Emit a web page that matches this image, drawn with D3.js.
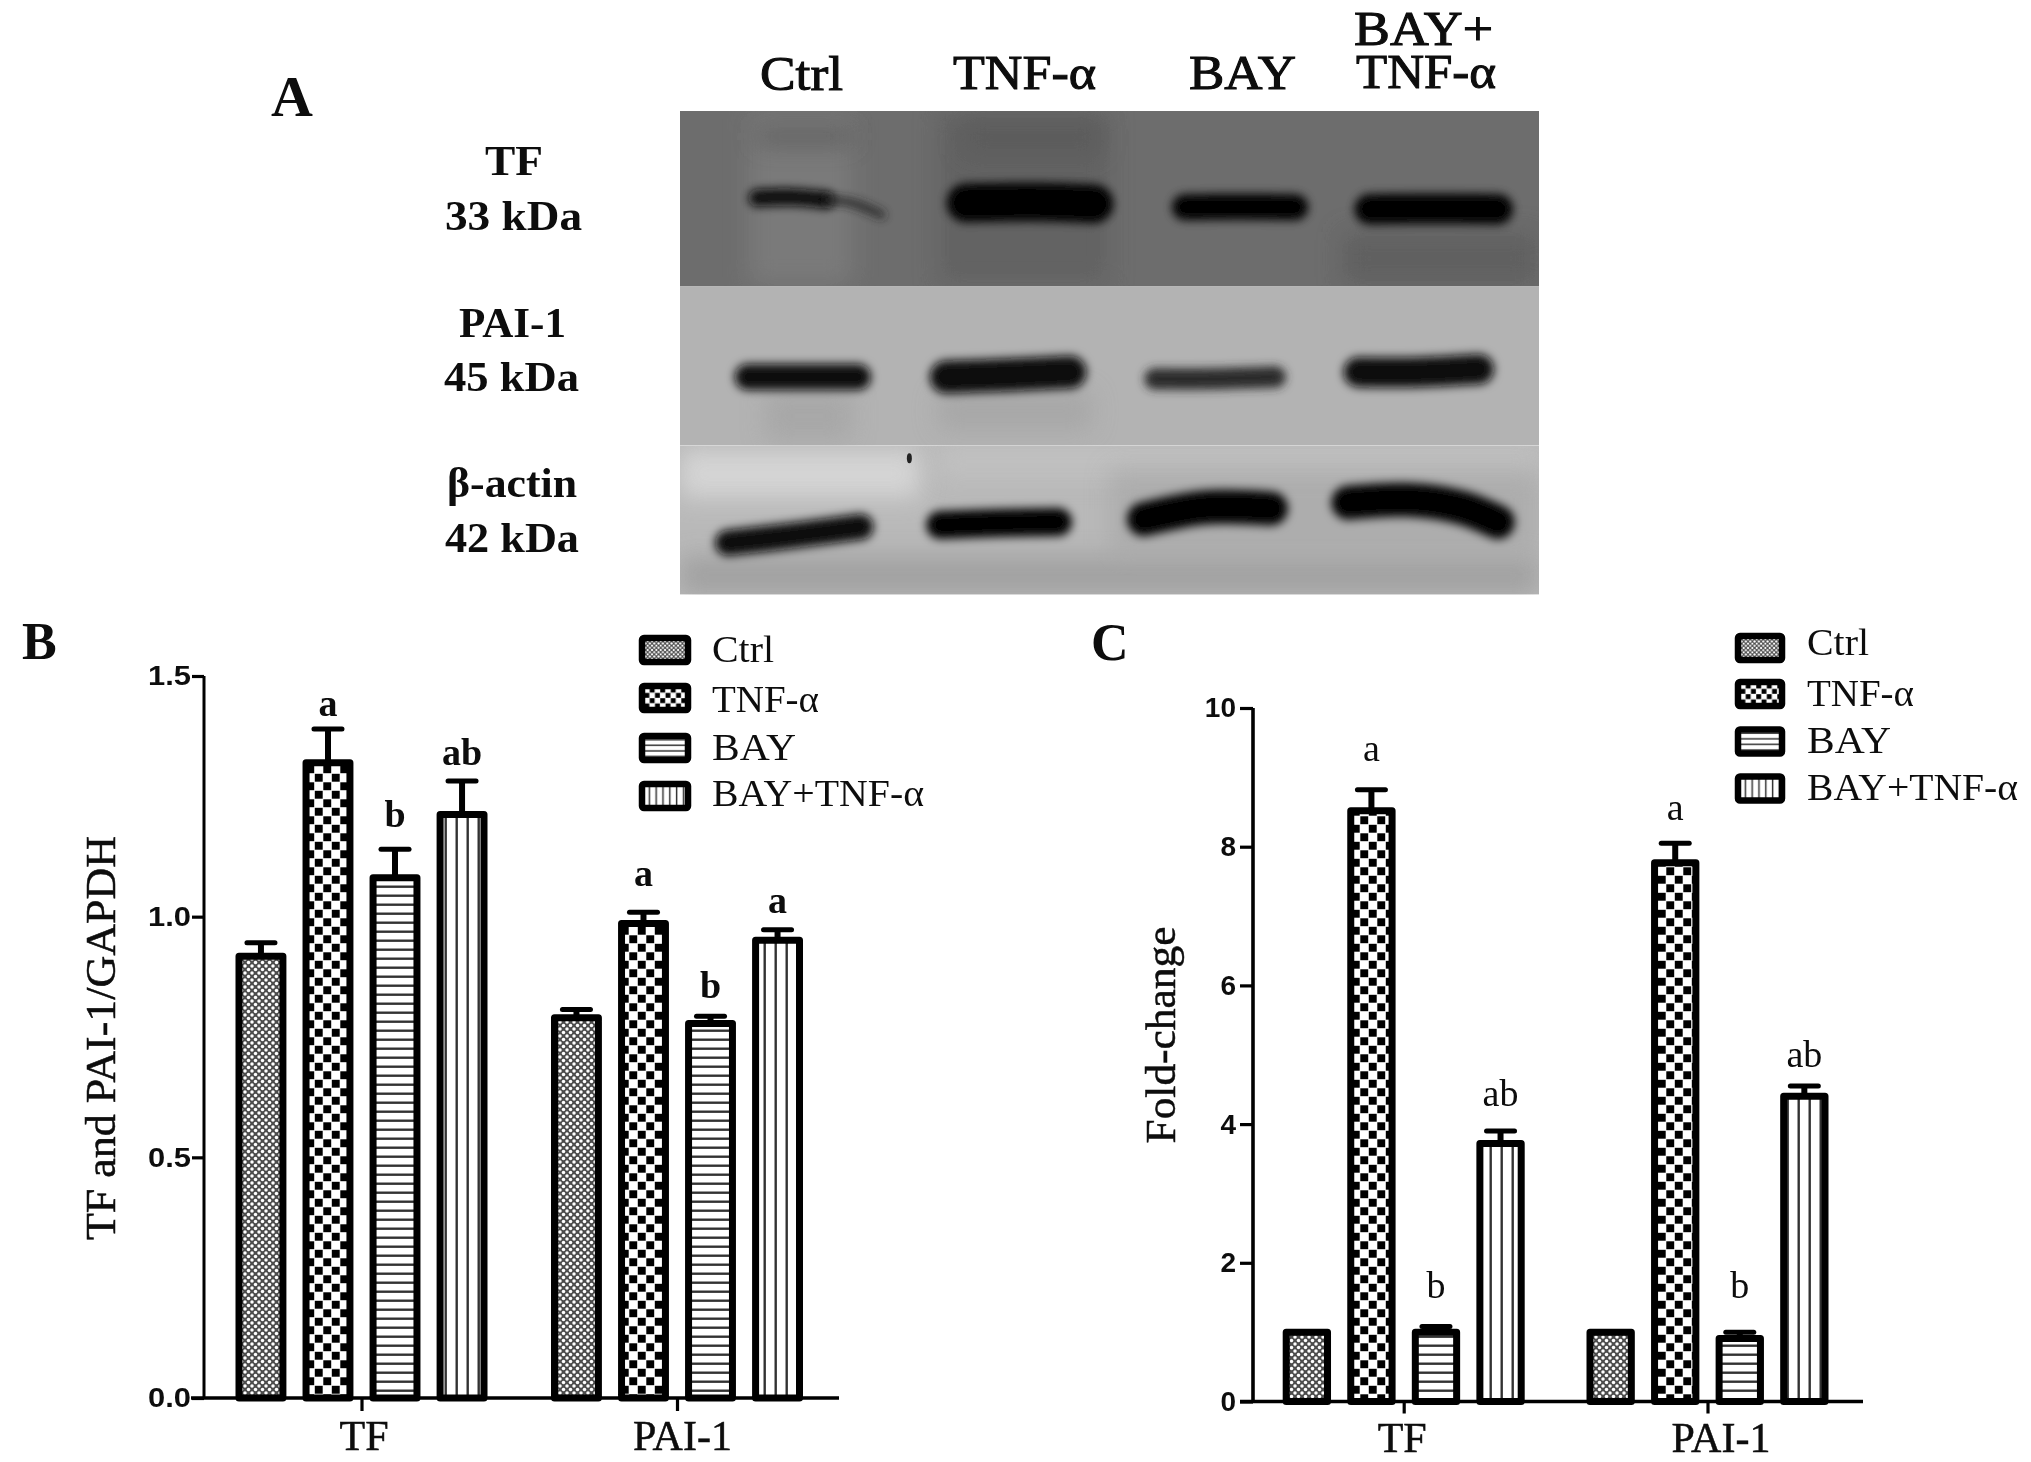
<!DOCTYPE html>
<html><head><meta charset="utf-8">
<script src="https://cdnjs.cloudflare.com/ajax/libs/d3/7.8.5/d3.min.js"></script>
<style>html,body{margin:0;background:#fff}svg{display:block}</style></head>
<body><svg id="c" width="2031" height="1462"></svg>
<script>
// ---------- data ----------
const series = ["Ctrl","TNF-α","BAY","BAY+TNF-α"];
const groups = ["TF","PAI-1"];
const bTF   = [0.918,1.32,1.081,1.212];
const bPAI  = [0.79,0.986,0.778,0.951];
const bTFe  = [0.946,1.39,1.14,1.282];
const bPAIe = [0.807,1.009,0.793,0.973];
const bLabels = ["","a","b","ab","","a","b","a"];
const bLabelAt = [0,1.416,1.186,1.315,0,1.064,0.83,1.007];
const cTF   = [1,8.52,1,3.72];
const cPAI  = [1,7.77,0.91,4.4];
const cTFe  = [1,8.82,1.08,3.9];
const cPAIe = [1,8.05,1,4.55];
const cLabels = ["","a","b","ab","","a","b","ab"];
const cLabelAt = [0,9.24,1.49,4.26,0,8.38,1.49,4.83];
const bTicks = [0,0.5,1,1.5];
const cTicks = [0,2,4,6,8,10];
// western blot, in percent of the blot image
const blotBands = [
 {p:0,t:3.6,c:"#0c0c0c",pts:[[9,18],[13,17.8],[17,18.4]]},
 {p:0,t:1.4,c:"#222",pts:[[17,18.4],[20,19],[23.5,21.5]]},
 {p:0,t:8,c:"#000",pts:[[33.3,19],[41,18.8],[48.2,19.2]]},
 {p:0,t:5.4,c:"#050505",pts:[[58.8,19.9],[65,19.8],[71.6,19.9]]},
 {p:0,t:6.3,c:"#000",pts:[[80.3,20.3],[88,20.2],[95.2,20.3]]},
 {p:1,t:5.4,c:"#111",pts:[[7.9,55],[14,55],[20.7,55]]},
 {p:1,t:6.8,c:"#0a0a0a",pts:[[31,55],[38,54.6],[45.4,54]]},
 {p:1,t:4.4,c:"#2a2a2a",pts:[[55.3,55.4],[62,55.4],[69.3,55]]},
 {p:1,t:6.2,c:"#111",pts:[[79,54],[86,54],[93,53.4]]},
 {p:2,t:5.4,c:"#0a0a0a",pts:[[5.6,89.3],[14,87.6],[21,86]]},
 {p:2,t:5.8,c:"#050505",pts:[[30.3,85.6],[37,85.2],[44,85]]},
 {p:2,t:7,c:"#000",pts:[[54,84.4],[61,82],[68.8,82.2]]},
 {p:2,t:7,c:"#000",pts:[[77.8,81],[85,80.4],[91,82],[95.2,85]]}
];
const blotPanels = [{y0:0,y1:36.2,c:"#6d6d6d"},{y0:36.2,y1:69.2,c:"#b3b3b3"},{y0:69.2,y1:100,c:"#b9b9b9"}];
const blotStreaks = [
 {p:0,x0:8,x1:20,y0:0,y1:36,c:"#808080",o:.7},{p:0,x0:30,x1:50,y0:0,y1:36,c:"#5f5f5f",o:.7},
 {p:0,x0:9,x1:20,y0:3.5,y1:7,c:"#4d4d4d",o:.6},{p:0,x0:33,x1:49,y0:2,y1:9,c:"#575757",o:.6},
 {p:0,x0:77,x1:100,y0:25,y1:36,c:"#5c5c5c",o:.7},
 {p:1,x0:10,x1:20,y0:58,y1:68,c:"#a3a3a3",o:.7},{p:1,x0:30,x1:48,y0:58,y1:66,c:"#a0a0a0",o:.6},
 {p:2,x0:0,x1:28,y0:70,y1:80,c:"#d8d8d8",o:.9},{p:2,x0:30,x1:100,y0:69,y1:76,c:"#c4c4c4",o:.7},
 {p:2,x0:0,x1:100,y0:92,y1:100,c:"#9f9f9f",o:.9},{p:2,x0:50,x1:100,y0:74,y1:92,c:"#a8a8a8",o:.7}
];
const serif = "'Liberation Serif','Times New Roman',serif";
const sans = "'Liberation Sans',Arial,sans-serif";

// ---------- setup ----------
const svg = d3.select("#c");
const defs = svg.append("defs");
const soft = defs.append("filter").attr("id","soft").attr("filterUnits","userSpaceOnUse").attr("x",0).attr("y",0).attr("width",2031).attr("height",1462);
soft.append("feGaussianBlur").attr("stdDeviation",0.7);
[["b3",4.6],["b8",12]].forEach(([id,s])=>{
  defs.append("filter").attr("id",id).attr("filterUnits","userSpaceOnUse").attr("x",600).attr("y",60).attr("width",1000).attr("height",600)
    .append("feGaussianBlur").attr("stdDeviation",s);
});
function makePatterns(suffix,k){
  const tf = `scale(${k})`;
  let p = defs.append("pattern").attr("id","p0"+suffix).attr("patternUnits","userSpaceOnUse").attr("width",7).attr("height",7).attr("patternTransform",tf);
  p.append("rect").attr("width",7).attr("height",7).attr("fill","#4d4d4d");
  [[0,0],[7,0],[0,7],[7,7],[3.5,3.5]].forEach(d=>p.append("circle").attr("cx",d[0]).attr("cy",d[1]).attr("r",1.75).attr("fill","#fff"));
  p = defs.append("pattern").attr("id","p1"+suffix).attr("patternUnits","userSpaceOnUse").attr("width",17).attr("height",17).attr("patternTransform",tf);
  p.append("rect").attr("width",17).attr("height",17).attr("fill","#fff");
  [[0.3,0.3],[8.8,8.8]].forEach(d=>p.append("rect").attr("x",d[0]).attr("y",d[1]).attr("width",7.9).attr("height",7.9).attr("fill","#000"));
  p = defs.append("pattern").attr("id","p2"+suffix).attr("patternUnits","userSpaceOnUse").attr("width",9).attr("height",9).attr("patternTransform",tf);
  p.append("rect").attr("width",9).attr("height",9).attr("fill","#fff");
  p.append("rect").attr("y",3.5).attr("width",9).attr("height",2.4).attr("fill","#333");
  p = defs.append("pattern").attr("id","p3"+suffix).attr("patternUnits","userSpaceOnUse").attr("width",11).attr("height",11).attr("patternTransform",tf);
  p.append("rect").attr("width",11).attr("height",11).attr("fill","#fff");
  p.append("rect").attr("x",4.5).attr("width",2.4).attr("height",11).attr("fill","#333");
}
makePatterns("",1); makePatterns("L",0.62);

const root = svg.append("g").attr("filter","url(#soft)");
root.append("rect").attr("width",2031).attr("height",1462).attr("fill","#fff");

function label(g,x,y,s,o={}){
  const t = g.append("text").attr("x",x).attr("y",y).text(s)
    .attr("font-family",o.family||serif).attr("font-size",o.size||38)
    .attr("font-weight",o.weight||"normal").attr("text-anchor",o.anchor||"start").attr("fill","#0a0a0a");
  if(o.len) t.attr("textLength",o.len).attr("lengthAdjust","spacingAndGlyphs");
  if(o.stroke) t.attr("stroke","#0a0a0a").attr("stroke-width",o.stroke);
  return t;
}

// ---------- panel A ----------
const bx = d3.scaleLinear([0,100],[680,1539]);
const by = d3.scaleLinear([0,100],[111,594.6]);
const blot = root.append("g");
blotPanels.forEach((p,i)=>{
  defs.append("clipPath").attr("id","clip"+i).append("rect")
    .attr("x",bx(0)).attr("y",by(p.y0)).attr("width",bx(100)-bx(0)).attr("height",by(p.y1)-by(p.y0));
  const g = blot.append("g").attr("clip-path",`url(#clip${i})`).attr("class","panel"+i);
  g.append("rect").attr("x",bx(0)).attr("y",by(p.y0)).attr("width",bx(100)-bx(0)).attr("height",by(p.y1)-by(p.y0)).attr("fill",p.c);
});
blotStreaks.forEach(s=>{
  blot.select(".panel"+s.p).append("rect").attr("x",bx(s.x0)).attr("y",by(s.y0)).attr("width",bx(s.x1)-bx(s.x0)).attr("height",by(s.y1)-by(s.y0))
    .attr("fill",s.c).attr("opacity",s.o).attr("filter","url(#b8)");
});
const bandLine = d3.line().x(d=>bx(d[0])).y(d=>by(d[1])).curve(d3.curveCatmullRom);
blotBands.forEach(b=>{
  const unit = by(1)-by(0);
  blot.select(".panel"+b.p).append("path").attr("d",bandLine(b.pts)).attr("fill","none")
    .attr("stroke",b.c).attr("stroke-width",b.t*unit).attr("stroke-linecap","round").attr("filter","url(#b3)");
});
blot.select(".panel2").append("ellipse").attr("cx",bx(26.7)).attr("cy",by(71.8)).attr("rx",2.5).attr("ry",5).attr("fill","#222");

const hdr = {size:48,stroke:1};
label(root,760,90,"Ctrl",{...hdr,len:83});
label(root,953,89,"TNF-α",{...hdr,len:143});
label(root,1189,89,"BAY",{...hdr,len:107});
label(root,1354,45,"BAY+",{...hdr,len:139});
label(root,1356,88,"TNF-α",{...hdr,len:140});
label(root,271,116,"A",{size:58,weight:"bold"});
const side = {size:43,weight:"bold"};
label(root,485,175,"TF",{...side,len:58});
label(root,445,230,"33 kDa",{...side,len:137});
label(root,459,337,"PAI-1",{...side,len:107});
label(root,444,391,"45 kDa",{...side,len:135});
label(root,447,497,"β-actin",{...side,len:130});
label(root,445,552,"42 kDa",{...side,len:134});

// ---------- panels B, C ----------
function chart(o){
  const g = root.append("g");
  const y = d3.scaleLinear(o.domain,o.yRange);
  const x0 = d3.scalePoint(groups,o.xCenters);
  const x1 = d3.scaleBand(series,[-o.halfSpan,o.halfSpan]).paddingInner(o.pad);
  const rows = [];
  groups.forEach((gr,gi)=>series.forEach((s,si)=>rows.push({gr,gi,s,si,v:o.vals[gi][si],e:o.errs[gi][si],
    lab:o.labels[gi*4+si],at:o.labelAt[gi*4+si]})));
  const cx = d=>x0(d.gr)+x1(d.s)+x1.bandwidth()/2;
  // error bars
  const errs = rows.filter(d=>d.e>d.v);
  g.selectAll(null).data(errs).join("line").attr("x1",cx).attr("x2",cx).attr("y1",d=>y(d.v)).attr("y2",d=>y(d.e)).attr("stroke","#000").attr("stroke-width",6);
  g.selectAll(null).data(errs).join("line").attr("x1",d=>cx(d)-14).attr("x2",d=>cx(d)+14).attr("y1",d=>y(d.e)).attr("y2",d=>y(d.e)).attr("stroke","#000").attr("stroke-width",5).attr("stroke-linecap","round");
  // bars
  g.selectAll(null).data(rows).join("rect")
    .attr("x",d=>x0(d.gr)+x1(d.s)).attr("width",x1.bandwidth())
    .attr("y",d=>y(d.v)).attr("height",d=>y(0)-y(d.v))
    .attr("fill",d=>`url(#p${d.si})`).attr("stroke","#000").attr("stroke-width",7).attr("stroke-linejoin","round");
  // significance letters
  g.selectAll(null).data(rows.filter(d=>d.lab)).join("text")
    .attr("x",cx).attr("y",d=>y(d.at)).text(d=>d.lab).attr("text-anchor","middle")
    .attr("font-family",serif).attr("font-size",38).attr("font-weight",o.labelWeight).attr("fill","#0a0a0a");
  // axes
  const ya = g.append("g").attr("transform",`translate(${o.axisX},0)`)
    .call(d3.axisLeft(y).tickValues(o.ticks).tickFormat(d3.format(o.fmt)).tickSize(o.tick).tickPadding(o.tickPad));
  ya.select(".domain").attr("stroke","#000").attr("stroke-width",o.yStroke).attr("d",`M0,${y(o.domain[1])}V${y(0)}`);
  ya.selectAll(".tick line").attr("stroke","#000").attr("stroke-width",3.2);
  const tt = ya.selectAll(".tick text").attr("font-family",sans).attr("font-size",28).attr("font-weight","bold").attr("fill","#111");
  if(o.tickLen) tt.attr("textLength",o.tickLen).attr("lengthAdjust","spacingAndGlyphs");
  const xa = g.append("g").attr("transform",`translate(0,${y(0)})`)
    .call(d3.axisBottom(x0).tickSize(o.xTick).tickPadding(9));
  xa.select(".domain").attr("stroke","#000").attr("stroke-width",3.6).attr("d",`M${o.xLine[0]},0H${o.xLine[1]}`);
  xa.selectAll(".tick line").attr("stroke","#000").attr("stroke-width",3.2);
  xa.selectAll(".tick text").attr("font-family",serif).attr("font-size",42).attr("fill","#0a0a0a")
    .attr("stroke","#0a0a0a").attr("stroke-width",0.5).attr("dx",(d,i)=>o.xLabelDx[i]);
  // y title
  g.append("text").attr("transform",`translate(${o.titleX},${o.titleY}) rotate(-90)`).text(o.title)
    .attr("text-anchor","middle").attr("font-family",serif).attr("font-size",42).attr("fill","#0a0a0a")
    .attr("stroke","#0a0a0a").attr("stroke-width",0.5)
    .attr("textLength",o.titleLen).attr("lengthAdjust","spacingAndGlyphs");
  // legend
  const ly = d3.scaleOrdinal(series,o.legendY);
  const leg = g.selectAll(null).data(series).join("g").attr("transform",d=>`translate(${o.legendX},${ly(d)})`);
  leg.append("rect").attr("x",3).attr("y",-12).attr("width",o.legendW-6).attr("height",24).attr("rx",2)
    .attr("fill",(d,i)=>`url(#p${i}L)`).attr("stroke","#000").attr("stroke-width",6.5).attr("stroke-linejoin","round");
  leg.append("text").attr("x",o.legendTextX).attr("y",(d,i)=>o.legendDy[i]).text(d=>d)
    .attr("font-family",serif).attr("font-size",38).attr("fill","#111")
    .attr("textLength",(d,i)=>o.legendLens[i]).attr("lengthAdjust","spacingAndGlyphs");
}
chart({domain:[0,1.5],yRange:[1398,676],xCenters:[361.5,677],halfSpan:122.5,pad:.345,
  vals:[bTF,bPAI],errs:[bTFe,bPAIe],labels:bLabels,labelAt:bLabelAt,labelWeight:"bold",
  axisX:204,ticks:bTicks,fmt:".1f",tick:12,tickPad:1,tickLen:43,yStroke:3,xTick:13,xLine:[191,839],xLabelDx:[2,5],
  title:"TF and PAI-1/GAPDH",titleX:115,titleY:1038,titleLen:404,
  legendX:639,legendW:52,legendY:[650,698,748,796],legendTextX:73,legendDy:[12,14,12,10],legendLens:[62,107,84,212]});
chart({domain:[0,10],yRange:[1401.5,708],xCenters:[1403.7,1707.5],halfSpan:117.5,pad:.36,
  vals:[cTF,cPAI],errs:[cTFe,cPAIe],labels:cLabels,labelAt:cLabelAt,labelWeight:"normal",
  axisX:1253,ticks:cTicks,fmt:"d",tick:13,tickPad:4,yStroke:3.6,xTick:12,xLine:[1240,1863],xLabelDx:[-2,13],
  title:"Fold-change",titleX:1175,titleY:1035,titleLen:217,
  legendX:1735,legendW:50,legendY:[648,694,741.5,788.5],legendTextX:72,legendDy:[7,12,11,11],legendLens:[62,107,84,211]});
label(root,22,659,"B",{size:52,weight:"bold"});
label(root,1091,660,"C",{size:52,weight:"bold"});
</script></body></html>
